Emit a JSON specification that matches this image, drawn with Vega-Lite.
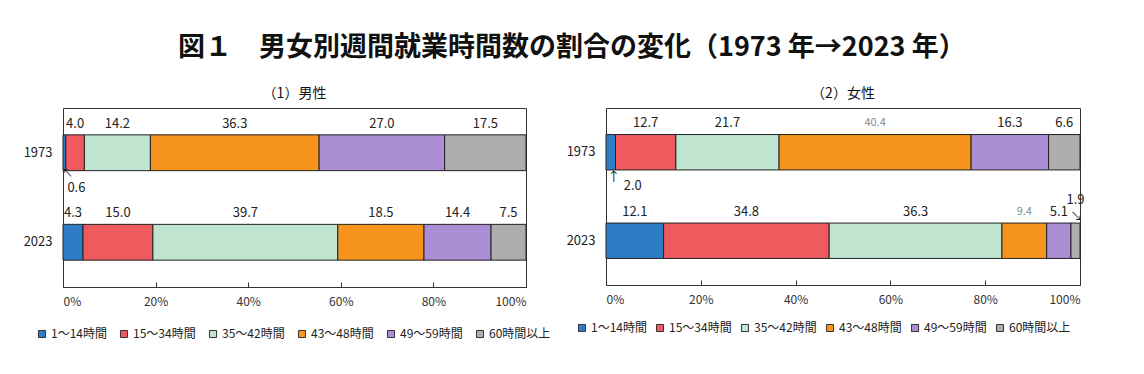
{
  "$schema": "https://vega.github.io/schema/vega-lite/v6.json",
  "background": "white",
  "padding": {"left": 22, "top": 33, "right": 5, "bottom": 5},
  "bounds": "flush",
  "config": {
    "font": "Noto Sans CJK JP",
    "view": {"stroke": "#333", "strokeWidth": 1},
    "concat": {"spacing": 80},
    "axisY": {"title": null, "ticks": false, "domain": false, "labelFontSize": 13, "labelPadding": 11, "labelColor": "#222"},
    "axisX": {"title": null, "grid": false, "domain": false, "tickSize": -5, "tickColor": "#333", "labelPadding": 14, "labelFontSize": 12, "labelColor": "#333", "format": ".0%"},
    "legend": {"direction": "horizontal", "title": null, "symbolType": "square", "symbolSize": 50, "symbolStrokeColor": "#333", "symbolStrokeWidth": 1, "labelFontSize": 12, "labelColor": "#222", "columnPadding": 11, "labelOffset": 3, "columns": 6}
  },
  "title": {"text": "図１　男女別週間就業時間数の割合の変化（1973 年→2023 年）", "fontSize": 27, "fontWeight": "bold", "anchor": "middle", "offset": 25, "dx": 18, "color": "#111"},
  "datasets": {
    "d": [
      {"sex": "男性", "year": "1973", "cat": "1～14時間", "order": 1, "value": 0.6},
      {"sex": "男性", "year": "1973", "cat": "15～34時間", "order": 2, "value": 4.0},
      {"sex": "男性", "year": "1973", "cat": "35～42時間", "order": 3, "value": 14.2},
      {"sex": "男性", "year": "1973", "cat": "43～48時間", "order": 4, "value": 36.3},
      {"sex": "男性", "year": "1973", "cat": "49～59時間", "order": 5, "value": 27.0},
      {"sex": "男性", "year": "1973", "cat": "60時間以上", "order": 6, "value": 17.5},
      {"sex": "男性", "year": "2023", "cat": "1～14時間", "order": 1, "value": 4.3},
      {"sex": "男性", "year": "2023", "cat": "15～34時間", "order": 2, "value": 15.0},
      {"sex": "男性", "year": "2023", "cat": "35～42時間", "order": 3, "value": 39.7},
      {"sex": "男性", "year": "2023", "cat": "43～48時間", "order": 4, "value": 18.5},
      {"sex": "男性", "year": "2023", "cat": "49～59時間", "order": 5, "value": 14.4},
      {"sex": "男性", "year": "2023", "cat": "60時間以上", "order": 6, "value": 7.5},
      {"sex": "女性", "year": "1973", "cat": "1～14時間", "order": 1, "value": 2.0},
      {"sex": "女性", "year": "1973", "cat": "15～34時間", "order": 2, "value": 12.7},
      {"sex": "女性", "year": "1973", "cat": "35～42時間", "order": 3, "value": 21.7},
      {"sex": "女性", "year": "1973", "cat": "43～48時間", "order": 4, "value": 40.4},
      {"sex": "女性", "year": "1973", "cat": "49～59時間", "order": 5, "value": 16.3},
      {"sex": "女性", "year": "1973", "cat": "60時間以上", "order": 6, "value": 6.6},
      {"sex": "女性", "year": "2023", "cat": "1～14時間", "order": 1, "value": 12.1},
      {"sex": "女性", "year": "2023", "cat": "15～34時間", "order": 2, "value": 34.8},
      {"sex": "女性", "year": "2023", "cat": "35～42時間", "order": 3, "value": 36.3},
      {"sex": "女性", "year": "2023", "cat": "43～48時間", "order": 4, "value": 9.4},
      {"sex": "女性", "year": "2023", "cat": "49～59時間", "order": 5, "value": 5.1},
      {"sex": "女性", "year": "2023", "cat": "60時間以上", "order": 6, "value": 1.9}
    ]
  },
  "resolve": {"scale": {"color": "independent"}, "legend": {"color": "independent"}},
  "hconcat": [
    {
      "title": {"text": "（1）男性", "fontSize": 14, "fontWeight": "normal", "offset": 7, "color": "#111"},
      "width": 463,
      "height": 179,
      "data": {"name": "d"},
      "transform": [
        {"filter": "datum.sex == '男性'"},
        {"stack": "value", "groupby": ["year"], "sort": [{"field": "order", "order": "ascending"}], "offset": "normalize", "as": ["x0", "x1"]}
      ],
      "encoding": {
        "y": {"field": "year", "type": "nominal", "sort": ["1973", "2023"], "scale": {"paddingInner": 0.6, "paddingOuter": 0.3}}
      },
      "layer": [
        {
          "mark": {"type": "bar", "stroke": "#222", "strokeWidth": 1},
          "encoding": {
            "x": {"field": "x0", "type": "quantitative", "scale": {"domain": [0, 1], "nice": false}, "axis": {"values": [0, 0.2, 0.4, 0.6, 0.8, 1]}},
            "x2": {"field": "x1"},
            "color": {"field": "cat", "type": "nominal", "sort": ["1～14時間", "15～34時間", "35～42時間", "43～48時間", "49～59時間", "60時間以上"],
              "scale": {"domain": ["1～14時間", "15～34時間", "35～42時間", "43～48時間", "49～59時間", "60時間以上"], "range": ["#2e7cc6", "#ef5a5f", "#bfe5d1", "#f7941d", "#ab8ed3", "#adadad"]},
              "legend": {"orient": "none", "legendX": -27, "legendY": 220}}
          }
        },
        {
          "transform": [
            {"filter": "datum.value >= 2.5"},
            {"fold": ["x0", "x1"], "as": ["edge", "pos"]},
            {"aggregate": [{"op": "mean", "field": "pos", "as": "mid"}], "groupby": ["year", "cat", "order", "value"]}
          ],
          "mark": {"type": "text", "dy": -29, "fontSize": 13, "color": "#222"},
          "encoding": {
            "x": {"field": "mid", "type": "quantitative", "scale": {"domain": [0, 1], "nice": false}, "axis": {"values": [0, 0.2, 0.4, 0.6, 0.8, 1]}},
            "text": {"field": "value", "type": "quantitative", "format": ".1f"}
          }
        },
        {
          "transform": [
            {"filter": "datum.value < 2.5"},
            {"fold": ["x0", "x1"], "as": ["edge", "pos"]},
            {"aggregate": [{"op": "mean", "field": "pos", "as": "mid"}], "groupby": ["year", "cat", "order", "value"]}
          ],
          "layer": [
            {
              "mark": {"type": "text", "dy": 35, "dx": 12, "fontSize": 13, "color": "#222"},
              "encoding": {
                "x": {"field": "mid", "type": "quantitative", "scale": {"domain": [0, 1], "nice": false}, "axis": {"values": [0, 0.2, 0.4, 0.6, 0.8, 1]}},
                "text": {"field": "value", "type": "quantitative", "format": ".1f"}
              }
            },
            {
              "mark": {"type": "text", "dy": 21, "dx": 3, "fontSize": 11, "color": "#222", "text": "↖"},
              "encoding": {
                "x": {"field": "mid", "type": "quantitative", "scale": {"domain": [0, 1], "nice": false}, "axis": {"values": [0, 0.2, 0.4, 0.6, 0.8, 1]}}
              }
            }
          ]
        }
      ]
    },
    {
      "title": {"text": "（2）女性", "fontSize": 14, "fontWeight": "normal", "offset": 7, "color": "#111"},
      "width": 474,
      "height": 177,
      "data": {"name": "d"},
      "transform": [
        {"filter": "datum.sex == '女性'"},
        {"stack": "value", "groupby": ["year"], "sort": [{"field": "order", "order": "ascending"}], "offset": "normalize", "as": ["x0", "x1"]}
      ],
      "encoding": {
        "y": {"field": "year", "type": "nominal", "sort": ["1973", "2023"], "scale": {"paddingInner": 0.6, "paddingOuter": 0.3}}
      },
      "layer": [
        {
          "mark": {"type": "bar", "stroke": "#222", "strokeWidth": 1},
          "encoding": {
            "x": {"field": "x0", "type": "quantitative", "scale": {"domain": [0, 1], "nice": false}, "axis": {"values": [0, 0.2, 0.4, 0.6, 0.8, 1]}},
            "x2": {"field": "x1"},
            "color": {"field": "cat", "type": "nominal", "sort": ["1～14時間", "15～34時間", "35～42時間", "43～48時間", "49～59時間", "60時間以上"],
              "scale": {"domain": ["1～14時間", "15～34時間", "35～42時間", "43～48時間", "49～59時間", "60時間以上"], "range": ["#2e7cc6", "#ef5a5f", "#bfe5d1", "#f7941d", "#ab8ed3", "#adadad"]},
              "legend": {"orient": "none", "legendX": -30, "legendY": 214, "columnPadding": 7}}
          }
        },
        {
          "transform": [
            {"filter": "datum.value >= 2.5"},
            {"fold": ["x0", "x1"], "as": ["edge", "pos"]},
            {"aggregate": [{"op": "mean", "field": "pos", "as": "mid"}], "groupby": ["year", "cat", "order", "value"]}
          ],
          "mark": {"type": "text", "dy": -29},
          "encoding": {
            "x": {"field": "mid", "type": "quantitative", "scale": {"domain": [0, 1], "nice": false}, "axis": {"values": [0, 0.2, 0.4, 0.6, 0.8, 1]}},
            "text": {"field": "value", "type": "quantitative", "format": ".1f"},
            "color": {"condition": {"test": "datum.order == 4", "value": "#888888"}, "value": "#222222"},
            "size": {"condition": {"test": "datum.order == 4", "value": 11}, "value": 13}
          }
        },
        {
          "transform": [
            {"filter": "datum.value < 2.5"},
            {"fold": ["x0", "x1"], "as": ["edge", "pos"]},
            {"aggregate": [{"op": "mean", "field": "pos", "as": "mid"}], "groupby": ["year", "cat", "order", "value"]}
          ],
          "layer": [
            {
              "transform": [{"filter": "datum.year == '1973'"}],
              "mark": {"type": "text", "dy": 34, "dx": 22, "fontSize": 13, "color": "#222"},
              "encoding": {
                "x": {"field": "mid", "type": "quantitative", "scale": {"domain": [0, 1], "nice": false}, "axis": {"values": [0, 0.2, 0.4, 0.6, 0.8, 1]}},
                "text": {"field": "value", "type": "quantitative", "format": ".1f"}
              }
            },
            {
              "transform": [{"filter": "datum.year == '1973'"}],
              "mark": {"type": "text", "dy": 25, "dx": 3, "fontSize": 13, "color": "#222", "text": "↑"},
              "encoding": {
                "x": {"field": "mid", "type": "quantitative", "scale": {"domain": [0, 1], "nice": false}, "axis": {"values": [0, 0.2, 0.4, 0.6, 0.8, 1]}}
              }
            },
            {
              "transform": [{"filter": "datum.year == '2023'"}],
              "mark": {"type": "text", "dy": -41, "dx": 0, "fontSize": 13, "color": "#222"},
              "encoding": {
                "x": {"field": "mid", "type": "quantitative", "scale": {"domain": [0, 1], "nice": false}, "axis": {"values": [0, 0.2, 0.4, 0.6, 0.8, 1]}},
                "text": {"field": "value", "type": "quantitative", "format": ".1f"}
              }
            },
            {
              "transform": [{"filter": "datum.year == '2023'"}],
              "mark": {"type": "text", "dy": -24, "dx": 1, "fontSize": 12, "color": "#222", "text": "↘"},
              "encoding": {
                "x": {"field": "mid", "type": "quantitative", "scale": {"domain": [0, 1], "nice": false}, "axis": {"values": [0, 0.2, 0.4, 0.6, 0.8, 1]}}
              }
            }
          ]
        }
      ]
    }
  ]
}
